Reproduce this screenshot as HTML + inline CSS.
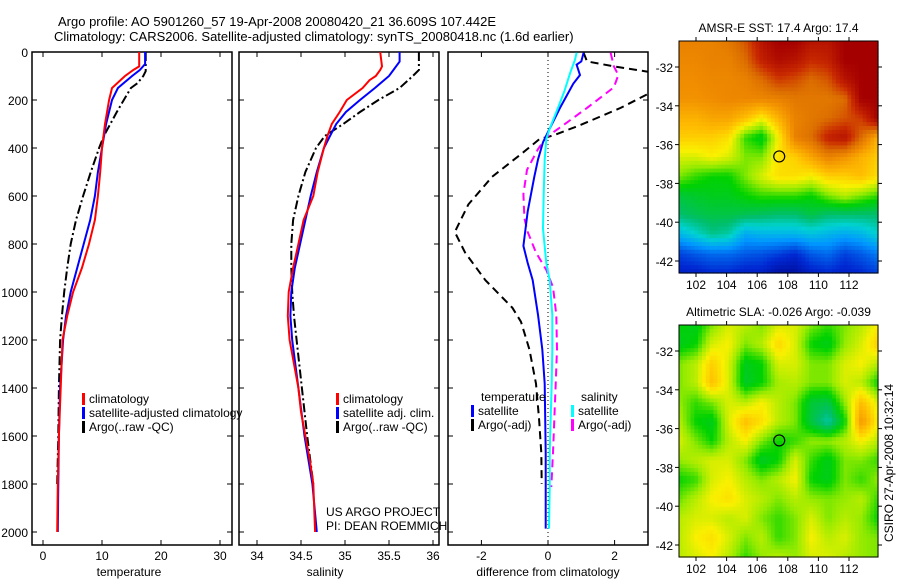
<!DOCTYPE html>
<html><head><meta charset="utf-8">
<style>
body{margin:0;background:#fff;}
svg{display:block;font-family:"Liberation Sans",sans-serif;}
text{fill:#000;}
</style></head>
<body>
<svg id="fig" width="900" height="580" viewBox="0 0 900 580">
  <defs>
    <clipPath id="c1"><rect x="32" y="52" width="200" height="493"/></clipPath>
    <clipPath id="c2"><rect x="239" y="52" width="200" height="493"/></clipPath>
    <clipPath id="c3"><rect x="448" y="52" width="200" height="493"/></clipPath>
  </defs>
  <text x="58" y="26" font-size="13">Argo profile: AO 5901260_57 19-Apr-2008 20080420_21 36.609S 107.442E</text>
  <text x="54" y="41" font-size="13">Climatology: CARS2006. Satellite-adjusted climatology: synTS_20080418.nc (1.6d earlier)</text>
  <g id="layer"></g>
</svg>
<script>
// ===== Profile data (depth in metres) =====
const tDepthClim = [0,60,75,100,150,200,300,400,500,600,700,800,900,1000,1100,1200,1400,1600,1800,2000];
const tClim      = [16.3,16.3,15.3,13.9,11.7,11.2,10.5,10.0,9.7,9.3,8.8,7.8,6.6,5.1,4.1,3.3,3.0,2.7,2.5,2.4];
const tDepthSat  = [0,50,75,100,150,200,300,400,500,600,700,800,900,1000,1100,1200,1400,1600,1800,2000];
const tSat       = [17.3,17.3,16.4,15.1,12.7,11.7,10.7,10.0,9.3,8.8,8.0,6.9,5.8,4.7,3.9,3.4,2.9,2.7,2.6,2.5];
const tDepthArgo = [0,80,100,130,150,200,250,300,350,400,500,600,700,800,900,1000,1100,1200,1400,1600,1800];
const tArgo      = [17.4,17.4,17.0,16.0,14.9,13.7,12.5,11.4,10.3,9.5,8.1,6.8,5.6,4.7,4.1,3.6,3.2,2.9,2.7,2.6,2.4];

const sDepthClim = [0,60,75,100,117,150,200,250,300,350,400,500,600,700,800,900,1000,1100,1200,1300,1400,1500,1600,1700,1800,1900,2000];
const sClim      = [35.40,35.42,35.40,35.35,35.28,35.20,35.02,34.94,34.85,34.80,34.76,34.69,34.64,34.53,34.47,34.41,34.36,34.35,34.37,34.42,34.47,34.50,34.55,34.60,34.64,34.65,34.66];
const sDepthSat  = [0,40,75,100,150,200,250,300,350,400,500,600,700,800,900,1000,1100,1200,1400,1600,1800,2000];
const sSat       = [35.62,35.62,35.55,35.50,35.34,35.17,35.01,34.90,34.83,34.76,34.68,34.61,34.55,34.49,34.43,34.39,34.38,34.40,34.47,34.54,34.63,34.68];
const sDepthArgo = [0,75,100,150,200,250,300,350,400,500,600,700,800,900,1000,1100,1200,1400,1600,1800];
const sArgo      = [35.84,35.84,35.77,35.62,35.38,35.17,34.98,34.77,34.67,34.55,34.47,34.41,34.39,34.39,34.40,34.42,34.45,34.51,34.57,34.64];

// ===== Difference-from-climatology data =====
const dDepthSalSat  = [3,32,89,161,233,319,362,448,592,736,879,951,1095,1239,1382,1526,1670,1813,1986];
const dSalSat       = [0.86,0.81,0.66,0.50,0.30,0.05,-0.05,-0.10,-0.13,-0.15,-0.05,0.05,0.13,0.13,0.11,0.08,0.05,0.05,0.03];
const dDepthTempSat = [3,39,53,96,132,233,319,376,448,520,664,808,879,951,1095,1239,1382,1670,1986];
const dTempSat      = [1.07,1.00,0.86,0.96,0.76,0.36,0.05,-0.15,-0.30,-0.41,-0.61,-0.74,-0.61,-0.46,-0.30,-0.17,-0.10,-0.07,-0.07];
const dDepthSalArgo = [3,60,96,147,233,305,355,405,491,592,693,750,836,908,980,1095,1239,1382,1670,1813];
const dSalArgo      = [1.88,1.98,2.11,1.98,1.17,0.46,-0.05,-0.30,-0.63,-0.74,-0.71,-0.61,-0.36,-0.05,0.15,0.25,0.27,0.23,0.15,0.10];
const dDepthTempArgo= [3,39,60,82,125,175,233,305,348,362,420,520,635,750,836,951,1066,1124,1239,1382,1526,1670,1799];
const dTempArgo     = [1.07,1.17,1.98,3.0,3.8,3.0,2.18,0.96,0.15,-0.25,-0.76,-1.68,-2.39,-2.80,-2.49,-1.88,-1.07,-0.81,-0.56,-0.36,-0.27,-0.20,-0.19];

// ===== Axis ticks =====
const depthTicks = [0,200,400,600,800,1000,1200,1400,1600,1800,2000];
const tempTicks = [0,10,20,30];
const salTicks = [34,34.5,35,35.5,36];
const salTickLabels = ["34","34.5","35","35.5","36"];
const diffTicks = [-2,0,2];
const lonTicks = [102,104,106,108,110,112];
const latTicks = [-32,-34,-36,-38,-40,-42];

// ===== Map fields (rows north->south, cols 101..113E), normalized colour index =====
const sstField = [
[0.78,0.78,0.78,0.80,0.85,0.95,1,1,0.95,0.95,1,1,1],
[0.77,0.77,0.78,0.78,0.82,0.92,0.97,0.95,0.90,0.92,1,1,1],
[0.76,0.76,0.77,0.77,0.78,0.82,0.88,0.86,0.82,0.85,0.95,1,1],
[0.75,0.75,0.76,0.77,0.77,0.77,0.78,0.80,0.80,0.80,0.82,1,1],
[0.70,0.70,0.72,0.72,0.68,0.62,0.70,0.78,0.80,0.82,0.85,0.88,1],
[0.66,0.66,0.66,0.64,0.52,0.48,0.62,0.78,0.82,0.92,0.95,0.82,0.70],
[0.60,0.60,0.62,0.60,0.55,0.55,0.64,0.66,0.72,0.78,0.75,0.70,0.66],
[0.55,0.52,0.50,0.50,0.55,0.60,0.64,0.64,0.62,0.66,0.66,0.68,0.64],
[0.46,0.47,0.48,0.48,0.50,0.52,0.52,0.52,0.50,0.55,0.58,0.55,0.52],
[0.42,0.44,0.45,0.45,0.44,0.43,0.42,0.42,0.45,0.42,0.42,0.42,0.42],
[0.30,0.35,0.40,0.38,0.28,0.30,0.30,0.30,0.32,0.30,0.28,0.30,0.35],
[0.15,0.18,0.20,0.20,0.18,0.17,0.15,0.12,0.18,0.20,0.15,0.18,0.22],
[0.10,0.10,0.12,0.12,0.10,0.10,0.05,0.05,0.10,0.12,0.10,0.12,0.15]];
const slaField = [
[0.50,0.48,0.55,0.60,0.58,0.55,0.60,0.60,0.55,0.52,0.55,0.58,0.62],
[0.48,0.50,0.60,0.62,0.55,0.58,0.65,0.60,0.50,0.48,0.56,0.60,0.66],
[0.55,0.58,0.66,0.60,0.48,0.50,0.60,0.60,0.55,0.55,0.60,0.62,0.58],
[0.55,0.58,0.68,0.60,0.47,0.50,0.57,0.58,0.55,0.55,0.60,0.58,0.50],
[0.56,0.52,0.55,0.60,0.58,0.62,0.58,0.55,0.46,0.45,0.56,0.68,0.60],
[0.58,0.50,0.48,0.60,0.68,0.64,0.58,0.55,0.45,0.38,0.50,0.74,0.62],
[0.60,0.55,0.50,0.58,0.62,0.55,0.50,0.52,0.56,0.56,0.58,0.62,0.58],
[0.56,0.58,0.60,0.60,0.55,0.47,0.50,0.60,0.52,0.48,0.55,0.55,0.52],
[0.50,0.52,0.60,0.62,0.58,0.55,0.58,0.62,0.50,0.48,0.55,0.52,0.56],
[0.54,0.58,0.62,0.64,0.60,0.58,0.55,0.58,0.56,0.55,0.56,0.58,0.52],
[0.58,0.60,0.60,0.58,0.60,0.55,0.52,0.55,0.60,0.55,0.58,0.56,0.50],
[0.58,0.62,0.64,0.60,0.55,0.58,0.52,0.55,0.62,0.58,0.60,0.56,0.55],
[0.58,0.60,0.62,0.58,0.52,0.56,0.58,0.56,0.60,0.60,0.58,0.56,0.55]];
const argoLon = [107.44];
const argoLat = [-36.61];

const NS='http://www.w3.org/2000/svg';
const layer=document.getElementById('layer');
function mk(tag,attrs,parent){const e=document.createElementNS(NS,tag);for(const k in attrs)e.setAttribute(k,attrs[k]);(parent||layer).appendChild(e);return e;}

const Y0=52, YB=545;
const yD = d => Y0 + d*0.24;
const xT = v => 43 + v*5.9;
const xS = v => 257 + (v-34)*88;
const xF = v => 548 + v*33.3;

function panel(name,x0,ticks,labels,xf,xlabel,xlx){
  const g=mk('g',{});
  
  
  mk('rect',{x:x0,y:Y0,width:200,height:YB-Y0,fill:'none',stroke:'#000','stroke-width':1.5},g);
  depthTicks.forEach(d=>{
    mk('line',{x1:x0,x2:x0+5,y1:yD(d),y2:yD(d),stroke:'#000'},g);
    mk('line',{x1:x0+200,x2:x0+195,y1:yD(d),y2:yD(d),stroke:'#000'},g);
  });
  ticks.forEach((t,i)=>{
    const x=xf(t);
    mk('line',{x1:x,x2:x,y1:YB,y2:YB-5,stroke:'#000'},g);
    mk('line',{x1:x,x2:x,y1:Y0,y2:Y0+5,stroke:'#000'},g);
    const tx=mk('text',{x:x,y:YB+15,'font-size':12,'text-anchor':'middle'},g);
    tx.textContent=labels[i];
    
    
  });
  const xl=mk('text',{x:xlx,y:576,'font-size':12,'text-anchor':'middle'},g);
  xl.textContent=xlabel;
  
  
}
depthTicks.forEach(d=>{
  const t=mk('text',{x:28,y:yD(d)+5,'font-size':12,'text-anchor':'end'});
  t.textContent=String(d);
  
  
});
panel('temperature',32,tempTicks,tempTicks.map(String),xT,'temperature',129);
panel('salinity',239,salTicks,salTickLabels,xS,'salinity',325);
panel('diff',448,diffTicks,diffTicks.map(String),xF,'difference from climatology',548);

const zl=mk('line',{x1:xF(0),x2:xF(0),y1:Y0,y2:YB,stroke:'#000','stroke-dasharray':'1,3','stroke-width':1});



function series(name,depths,vals,xf,color,dash,clip){
  const pts=depths.map((d,i)=>xf(vals[i]).toFixed(1)+','+yD(d).toFixed(1)).join(' ');
  const p=mk('polyline',{points:pts,fill:'none',stroke:color,'stroke-width':2,'clip-path':'url(#'+clip+')'});
  if(dash)p.setAttribute('stroke-dasharray',dash);
  
  
}
series('temp-argo-line',tDepthArgo,tArgo,xT,'#000','9,3,2,3','c1');
series('temp-sat-line',tDepthSat,tSat,xT,'#0000ff',null,'c1');
series('temp-clim-line',tDepthClim,tClim,xT,'#ff0000',null,'c1');
series('sal-argo-line',sDepthArgo,sArgo,xS,'#000','9,3,2,3','c2');
series('sal-sat-line',sDepthSat,sSat,xS,'#0000ff',null,'c2');
series('sal-clim-line',sDepthClim,sClim,xS,'#ff0000',null,'c2');
series('diff-temp-argo-line',dDepthTempArgo,dTempArgo,xF,'#000','8,5','c3');
series('diff-sal-argo-line',dDepthSalArgo,dSalArgo,xF,'#ff00ff','8,5','c3');
series('diff-temp-sat-line',dDepthTempSat,dTempSat,xF,'#0000ff',null,'c3');
series('diff-sal-sat-line',dDepthSalSat,dSalSat,xF,'#00ffff',null,'c3');

function legendEntry(name,x,y,color,label){
  const g=mk('g',{});
  
  
  if(color) mk('rect',{x:x,y:y-10,width:3,height:12,fill:color},g);
  const t=mk('text',{x:x+7,y:y,'font-size':12},g);
  t.textContent=label;
}
legendEntry('legend-temp-clim',82,403,'#ff0000','climatology');
legendEntry('legend-temp-sat',82,417,'#0000ff','satellite-adjusted climatology');
legendEntry('legend-temp-argo',82,431,'#000','Argo(..raw -QC)');
legendEntry('legend-sal-clim',336,403,'#ff0000','climatology');
legendEntry('legend-sal-sat',336,417,'#0000ff','satellite adj. clim.');
legendEntry('legend-sal-argo',336,431,'#000','Argo(..raw -QC)');
legendEntry('legend-diff-temp-head',474,401,null,'temperature');
legendEntry('legend-diff-temp-sat',471,415,'#0000ff','satellite');
legendEntry('legend-diff-temp-argo',471,429,'#000','Argo(-adj)');
legendEntry('legend-diff-sal-head',574,401,null,'salinity');
legendEntry('legend-diff-sal-sat',571,415,'#00ffff','satellite');
legendEntry('legend-diff-sal-argo',571,429,'#ff00ff','Argo(-adj)');
const pj=mk('text',{x:326,y:516,'font-size':12});pj.textContent='US ARGO PROJECT';


const pi=mk('text',{x:326,y:530,'font-size':12});pi.textContent='PI: DEAN ROEMMICH';



// ===== Maps =====
const cmapStops=[0,0.12,0.25,0.35,0.42,0.5,0.56,0.62,0.68,0.76,0.82,0.9,1.0];
const cmapCols=[[0,0,130],[0,40,210],[0,150,255],[0,210,210],[0,190,110],[0,210,0],[150,235,0],[250,240,0],[255,190,0],[240,140,0],[220,110,0],[200,40,0],[165,0,0]];
function cmap(v){
  v=Math.max(0,Math.min(1,v));
  let k=0;while(k<cmapStops.length-2&&v>cmapStops[k+1])k++;
  const a=(v-cmapStops[k])/(cmapStops[k+1]-cmapStops[k]);
  const c=cmapCols[k].map((x,i)=>Math.round(x+(cmapCols[k+1][i]-x)*a));
  return 'rgb('+c.join(',')+')';
}
function drawMap(name,field,top,title){
  const L=679,R=878,T=top,B=top+232;
  const lonX=lon=>696+(lon-102)*15.3;
  const latY=lat=>T+26+(-32-lat)*19.4;
  const g=mk('g',{});
  
  
  const rows=field.length, cols=field[0].length;
  const NX=52, NY=60, cw=(R-L)/NX, ch=(B-T)/NY;
  for(let j=0;j<NY;j++){
    for(let i=0;i<NX;i++){
      const fx=(i+0.5)/NX*(cols-1), fy=(j+0.5)/NY*(rows-1);
      const i0=Math.floor(fx), j0=Math.floor(fy), i1=Math.min(i0+1,cols-1), j1=Math.min(j0+1,rows-1);
      const ax=fx-i0, ay=fy-j0;
      const v=(field[j0][i0]*(1-ax)+field[j0][i1]*ax)*(1-ay)+(field[j1][i0]*(1-ax)+field[j1][i1]*ax)*ay;
      mk('rect',{x:(L+i*cw).toFixed(2),y:(T+j*ch).toFixed(2),width:(cw+0.6).toFixed(2),height:(ch+0.6).toFixed(2),fill:cmap(v)},g);
    }
  }
  mk('rect',{x:L,y:T,width:R-L,height:B-T,fill:'none',stroke:'#000','stroke-width':1},g);
  lonTicks.forEach(lon=>{
    const x=lonX(lon);
    mk('line',{x1:x,x2:x,y1:B,y2:B+4,stroke:'#000'},g);
    mk('line',{x1:x,x2:x,y1:T,y2:T-4,stroke:'#000'},g);
    const t=mk('text',{x:x,y:B+16,'font-size':12,'text-anchor':'middle'},g);t.textContent=String(lon);
  });
  latTicks.forEach(lat=>{
    const y=latY(lat);
    mk('line',{x1:L,x2:L-4,y1:y,y2:y,stroke:'#000'},g);
    mk('line',{x1:R,x2:R+4,y1:y,y2:y,stroke:'#000'},g);
    const t=mk('text',{x:L-6,y:y+5,'font-size':12,'text-anchor':'end'},g);t.textContent=String(lat);
  });
  const c=mk('circle',{cx:lonX(argoLon[0]),cy:latY(argoLat[0]),r:5.5,fill:'none',stroke:'#000','stroke-width':1.2},g);
  
  
  const tt=mk('text',{x:(L+R)/2,y:T-9,'font-size':12,'text-anchor':'middle'},g);
  tt.textContent=title;
  
  
}
drawMap('sst-map',sstField,41,'AMSR-E SST: 17.4 Argo: 17.4');
drawMap('sla-map',slaField,325,'Altimetric SLA: -0.026 Argo: -0.039');
const cs=mk('text',{x:0,y:0,'font-size':12,'text-anchor':'middle',transform:'translate(893,463) rotate(-90)'});
cs.textContent='CSIRO 27-Apr-2008 10:32:14';


</script>
</body></html>
